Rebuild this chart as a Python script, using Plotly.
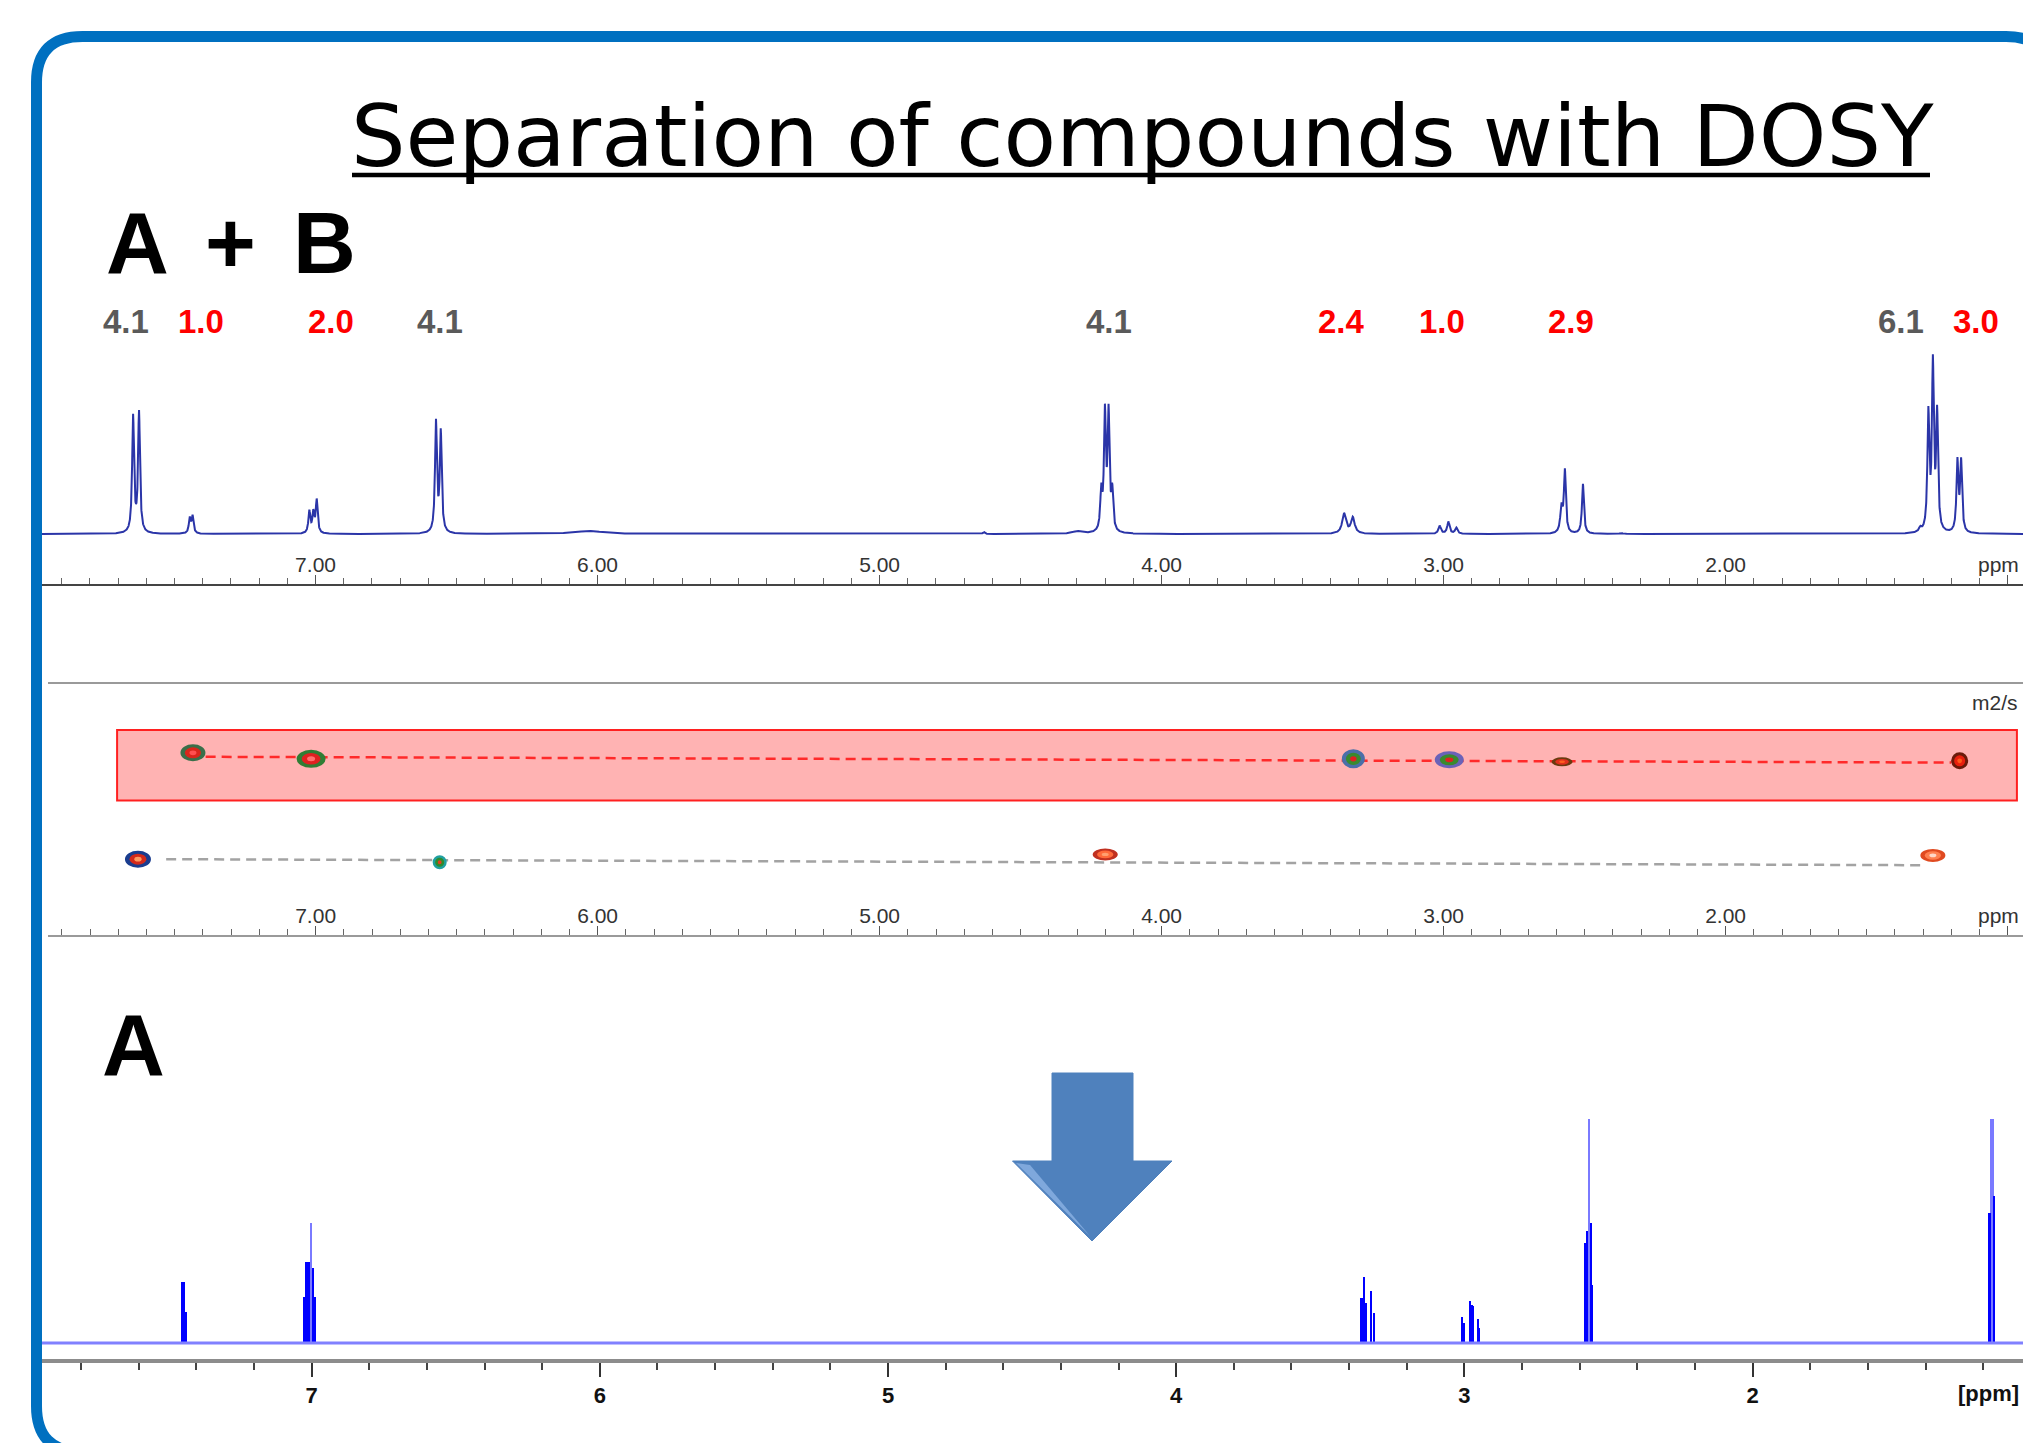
import numpy as np
import plotly.graph_objects as go

W, H = 2023, 1443

# ---------------- DATA ----------------
# Top: 1H spectrum of mixture A + B  (peak lines: position ppm, height, half-width ppm)
top_ppm = [7.647, 7.626, 7.446, 7.436, 7.022, 7.008, 6.996, 6.573, 6.556, 6.03, 4.63, 4.30,
           4.214, 4.201, 4.188, 4.175, 3.353, 3.322, 3.014, 2.983, 2.955, 2.582, 2.570, 2.506,
           2.37, 1.31, 1.281, 1.265, 1.250, 1.178, 1.165]
top_int = [116, 120, 15, 17, 22, 20, 33, 110, 100, 3, 2, 2.5,
           38, 116, 116, 38, 20, 16, 8, 12, 6, 25, 62, 50,
           1, 4, 116, 165, 116, 70, 70]
top_hw = [.004, .004, .004, .004, .004, .004, .004, .004, .004, .06, .004, .02,
          .004, .004, .004, .004, .008, .008, .005, .005, .005, .005, .004, .004,
          .005, .005, .004, .004, .004, .004, .004]

# Integrals above the mixture spectrum
int_text = ["4.1", "1.0", "2.0", "4.1", "4.1", "2.4", "1.0", "2.9", "6.1", "3.0"]
int_ppm = [7.672, 7.406, 6.945, 6.559, 4.187, 3.361, 3.004, 2.548, 1.378, 1.112]
int_comp = ["B", "A", "A", "B", "B", "A", "A", "A", "B", "A"]

# DOSY cross peaks: chemical shift (ppm) vs diffusion coefficient (arb. 1e-10 m2/s)
dosy_ppm = [7.435, 7.016, 3.320, 2.980, 2.580, 1.170, 7.630, 6.560, 4.200, 1.265]
dosy_D = [7.26, 7.02, 7.02, 6.98, 6.90, 6.94, 3.02, 2.90, 3.21, 3.17]
trendA_ppm = [7.39, 1.20]
trendA_D = [7.10, 6.87]
trendB_ppm = [7.53, 1.29]
trendB_D = [3.02, 2.78]
bandA_ppm = [7.704, 0.967]
bandA_D = [5.36, 8.17]

# Bottom: separated spectrum of A (stick lines)
a_ppm = [7.450, 7.443, 7.436, 7.025, 7.018, 7.011, 6.995, 6.988, 3.357, 3.349, 3.342,
         3.324, 3.313, 3.007, 3.000, 2.982, 2.975, 2.971, 2.952, 2.948, 2.581, 2.576,
         2.562, 2.556, 1.178, 1.162]
a_int = [61, 61, 31, 46, 81, 81, 75, 46, 45, 66, 40,
         52, 30, 26, 20, 42, 38, 37, 24, 15, 100, 112,
         120, 58, 130, 147]
a_tall_ppm = [7.002, 2.569, 1.172, 1.166]
a_tall_int = [120, 224, 224, 224]

# ---------------- helpers ----------------
def px(x):
    return x / W


def py(y):
    return 1 - y / H


fig = go.Figure()

# top spectrum (sum of Lorentzian lines)
grid = np.linspace(7.97, 0.94, 18000)
spec = np.zeros_like(grid)
for p, h, w in zip(top_ppm, top_int, top_hw):
    spec += h / (1 + ((grid - p) / w) ** 2)
fig.add_trace(go.Scatter(x=grid, y=spec, mode="lines", line=dict(color="#2b35a8", width=2),
                         xaxis="x", yaxis="y", hoverinfo="skip", showlegend=False))

# DOSY trend lines
fig.add_trace(go.Scatter(x=trendA_ppm, y=trendA_D, mode="lines",
                         line=dict(color="#ff2a2a", width=2.5, dash="10px,6px"),
                         xaxis="x2", yaxis="y2", showlegend=False))
fig.add_trace(go.Scatter(x=trendB_ppm, y=trendB_D, mode="lines",
                         line=dict(color="#a3a3a3", width=2.5, dash="10px,6px"),
                         xaxis="x2", yaxis="y2", showlegend=False))

# bottom spectrum baseline + sticks
fig.add_trace(go.Scatter(x=[7.9355, 1.0618], y=[0, 0], mode="lines",
                         line=dict(color="#8080ff", width=3), xaxis="x3", yaxis="y3",
                         showlegend=False))
fig.add_trace(go.Bar(x=a_tall_ppm, y=a_tall_int, width=0.004, marker=dict(color="#7a7aff", line_width=0),
                     xaxis="x3", yaxis="y3", showlegend=False))
fig.add_trace(go.Bar(x=a_ppm, y=a_int, width=0.0075, marker=dict(color="#0000ff", line_width=0),
                     xaxis="x3", yaxis="y3", showlegend=False))

shapes = []
# outer rounded frame
x0, y0, x1, y1, r = 36.5, 36.5, 2052, 1452, 46
path = (f"M {px(x0+r)},{py(y0)} L {px(x1-r)},{py(y0)} Q {px(x1)},{py(y0)} {px(x1)},{py(y0+r)} "
        f"L {px(x1)},{py(y1-r)} Q {px(x1)},{py(y1)} {px(x1-r)},{py(y1)} "
        f"L {px(x0+r)},{py(y1)} Q {px(x0)},{py(y1)} {px(x0)},{py(y1-r)} "
        f"L {px(x0)},{py(y0+r)} Q {px(x0)},{py(y0)} {px(x0+r)},{py(y0)} Z")
shapes.append(dict(type="path", path=path, xref="paper", yref="paper",
                   line=dict(color="#0070c0", width=11), layer="above"))

# title underline (continuous, through descenders)
shapes.append(dict(type="line", xref="paper", yref="paper", x0=px(352), x1=px(1930),
                   y0=py(175), y1=py(175), line=dict(color="#000", width=4.5)))

# red band for compound A in DOSY
shapes.append(dict(type="rect", xref="x2", yref="y2", x0=bandA_ppm[0], x1=bandA_ppm[1],
                   y0=bandA_D[0], y1=bandA_D[1], fillcolor="#ffb3b3",
                   line=dict(color="#ff2020", width=2), layer="below"))

# DOSY spots as layered ellipses (size in px, colours outer/mid/core)
spot_style = [
    (25, 17, "#3a6f4a", "#d9261c", "#ff5050"),
    (29, 18, "#2f7d34", "#e02020", "#ff7070"),
    (23, 19, "#4b6fa8", "#3a8a2e", "#e02020"),
    (29, 17, "#6a62b8", "#3a8a2e", "#e02020"),
    (21, 9, "#6a3a10", "#e0301e", "#ff6020"),
    (17, 17, "#6b1a0a", "#e8200e", "#ff5a1a"),
    (26, 17, "#1a3d8f", "#d42a1a", "#ff9a60"),
    (14, 14, "#20a0a0", "#2e8b2e", "#e04020"),
    (25, 12, "#c03020", "#ff6a3a", "#ffa070"),
    (25, 13, "#e04a20", "#ff8050", "#ffd8c8"),
]
ppm_per_px = (7.949 - 0.9454) / (W - 48)
d_per_px = 10.0 / 252
for (xp, yd, st) in zip(dosy_ppm, dosy_D, spot_style):
    w, h, c1, c2, c3 = st
    for f, c in ((1.0, c1), (0.65, c2), (0.28, c3)):
        hw = w * f / 2 * ppm_per_px
        hh = h * f / 2 * d_per_px
        shapes.append(dict(type="circle", xref="x2", yref="y2", x0=xp - hw, x1=xp + hw,
                           y0=yd - hh, y1=yd + hh, fillcolor=c, line=dict(width=0),
                           layer="above"))

# blue arrow
ax = [1052, 1133, 1133, 1172, 1092, 1012.5, 1052]
ay = [1073, 1073, 1161, 1161, 1241, 1161, 1161]
apath = "M " + " L ".join(f"{px(a)},{py(b)}" for a, b in zip(ax, ay)) + " Z"
shapes.append(dict(type="path", path=apath, xref="paper", yref="paper",
                   fillcolor="#4f81bd", line=dict(color="#4f81bd", width=1), layer="above"))
hpath = (f"M {px(1016)},{py(1163)} L {px(1030)},{py(1165)} L {px(1090)},{py(1236)} Z")
shapes.append(dict(type="path", path=hpath, xref="paper", yref="paper",
                   fillcolor="#7fa8dc", line=dict(width=0), layer="above"))

annotations = []
annotations.append(dict(text="Separation of compounds with DOSY", x=px(1142), y=py(136),
                        xref="paper", yref="paper", xanchor="center", yanchor="middle",
                        showarrow=False, font=dict(family="DejaVu Sans", size=86, color="#000")))
big = dict(family="Liberation Sans", size=87, color="#000", weight="bold")
for t, xx in (("A", 104), ("+", 203), ("B", 291)):
    annotations.append(dict(text=t, x=px(xx), y=py(243), xref="paper", yref="paper",
                            xanchor="left", yanchor="middle", showarrow=False, font=big))
annotations.append(dict(text="A", x=px(100), y=py(1044), xref="paper", yref="paper",
                        xanchor="left", yanchor="middle", showarrow=False, font=big))
for t, p, c in zip(int_text, int_ppm, int_comp):
    annotations.append(dict(text=t, x=p, y=py(321), xref="x", yref="paper", xanchor="center",
                            yanchor="middle", showarrow=False,
                            font=dict(family="Liberation Sans Narrow, Liberation Sans", size=33,
                                      weight="bold",
                                      color="#ff0000" if c == "A" else "#5a5a5a")))
lab_font = dict(family="Liberation Sans Narrow, Liberation Sans", size=21, color="#333")
annotations.append(dict(text="ppm", x=px(2021), y=py(565), xref="paper", yref="paper",
                        xanchor="right", yanchor="middle", showarrow=False, font=lab_font))
annotations.append(dict(text="ppm", x=px(2021), y=py(915), xref="paper", yref="paper",
                        xanchor="right", yanchor="middle", showarrow=False, font=lab_font))
annotations.append(dict(text="m2/s", x=px(2020), y=py(702), xref="paper", yref="paper",
                        xanchor="right", yanchor="middle", showarrow=False, font=lab_font))
annotations.append(dict(text="[ppm]", x=px(2021), y=py(1393), xref="paper", yref="paper",
                        xanchor="right", yanchor="middle", showarrow=False,
                        font=dict(family="Liberation Sans", size=22, color="#111", weight="bold")))

spec_axis = dict(showline=True, linecolor="#444", linewidth=2, ticks="inside", ticklen=9,
                 tickwidth=1, tickcolor="#555", tick0=0, dtick=1, tickformat=".2f",
                 ticklabelposition="inside", showgrid=False, zeroline=False,
                 tickfont=dict(family="Liberation Sans Narrow, Liberation Sans", size=21, color="#333"),
                 minor=dict(dtick=0.1, ticks="inside", ticklen=6, tickcolor="#666", tickwidth=1))

fig.update_layout(
    width=W, height=H, margin=dict(l=0, r=0, t=0, b=0),
    paper_bgcolor="white", plot_bgcolor="rgba(0,0,0,0)", showlegend=False,
    barmode="overlay", bargap=0,
    xaxis=dict(domain=[px(42), 1], range=[7.970, 0.9454], anchor="y", **spec_axis),
    yaxis=dict(domain=[py(584), py(340)], range=[-50, 194], visible=False),
    xaxis2=dict(domain=[px(48), 1], range=[7.949, 0.9454], anchor="y2", mirror=True,
                **{**spec_axis, "linecolor": "#9a9a9a"}),
    yaxis2=dict(domain=[py(935), py(684)], range=[0, 10], showline=True, linecolor="#9a9a9a",
                linewidth=2, showticklabels=False, ticks="", showgrid=False, zeroline=False),
    xaxis3=dict(domain=[px(42), 1], range=[7.9355, 1.0618], anchor="y3", showline=True,
                linecolor="#8c8c8c", linewidth=4, ticks="outside", ticklen=14, tickwidth=2,
                tickcolor="#333", tick0=0, dtick=1, showgrid=False, zeroline=False,
                tickfont=dict(family="Liberation Sans", size=22, color="#111", weight="bold"),
                minor=dict(dtick=0.2, ticks="outside", ticklen=7, tickcolor="#444", tickwidth=2)),
    yaxis3=dict(domain=[py(1359), py(1100)], range=[-16, 243], visible=False),
    shapes=shapes, annotations=annotations,
)

fig.write_html("out.html")
